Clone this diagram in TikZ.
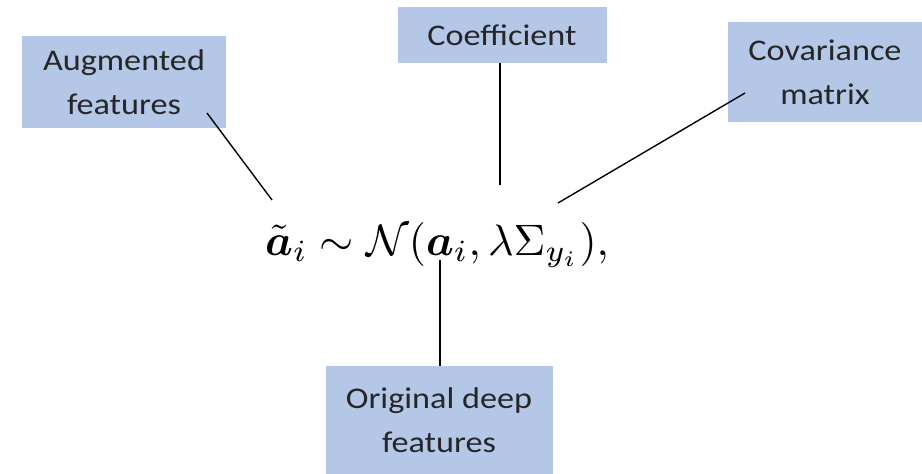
\documentclass[tikz,border=0pt]{standalone}
\usepackage{fontspec}
\usepackage{amsmath,bm,graphicx}
\newfontfamily\boxfont[FakeStretch=1.14]{Carlito}
\definecolor{boxblue}{HTML}{B4C7E7}
\begin{document}
\begin{tikzpicture}[x=1pt,y=-1pt,
  labelbox/.style={fill=boxblue, draw=none, inner sep=0pt, align=center,
     font=\boxfont\fontsize{30}{44}\selectfont, text=black!85},
  conn/.style={draw=black, line width=1.4pt}]
\useasboundingbox (0,0) rectangle (922,474);
\fill[white] (0,0) rectangle (922,474);
% boxes
\node[labelbox, minimum width=204pt, minimum height=92pt] (aug) at (124,82) {Augmented\\features};
\node[labelbox, minimum width=209pt, minimum height=56pt] (coef) at (502,35) {Coefficient};
\node[labelbox, minimum width=194pt, minimum height=100pt] (cov) at (825,72) {Covariance\\matrix};
\node[labelbox, minimum width=227pt, minimum height=108pt] (orig) at (439,420) {Original deep\\features};
% formula
\node[inner sep=0pt] (eq) at (437,245) {\scalebox{4.4}{$\displaystyle \tilde{\bm a}_i \sim \mathcal{N}(\bm a_i, \lambda\Sigma_{y_i}),$}};
% connector end points
\coordinate (eA) at (272,200);
\coordinate (eC) at (500,185);
\coordinate (eV) at (558,203);
\coordinate (eO) at (440,260);
\coordinate (sA) at (207,113);
\coordinate (sV) at (745,93);
\draw[conn] (sA) -- (eA);
\draw[conn] (coef.south -| eC) -- (eC);
\draw[conn] (sV) -- (eV);
\draw[conn] (eO) -- (orig.north -| eO);
\end{tikzpicture}
\end{document}
